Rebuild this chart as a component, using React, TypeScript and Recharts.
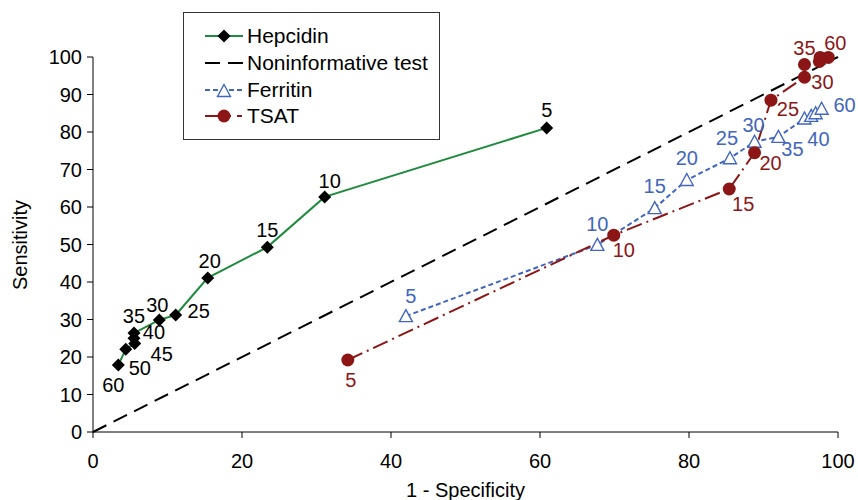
import React from "react";
import { ComposedChart, Line, XAxis, YAxis, Legend, Label } from "recharts";

// cut-off values (ng/mL or %), 1 - specificity (%), sensitivity (%)
const hepcidinCutoffs = [5, 10, 15, 20, 25, 30, 35, 40, 45, 50, 60];
const hepcidinFpr = [60.9, 31.1, 23.4, 15.4, 11.1, 8.9, 5.5, 5.5, 5.6, 4.4, 3.4];
const hepcidinSens = [81.1, 62.7, 49.3, 41.1, 31.2, 29.9, 26.4, 25.0, 23.6, 22.1, 17.9];

const ferritinCutoffs = [5, 10, 15, 20, 25, 30, 35, 40, 45, 50, 60];
const ferritinFpr = [42.0, 67.7, 75.4, 79.7, 85.5, 88.8, 92.0, 95.5, 96.4, 97.0, 97.8];
const ferritinSens = [30.9, 49.9, 59.7, 67.2, 73.0, 77.4, 78.7, 83.6, 84.3, 85.0, 86.2];
const ferritinShown = [5, 10, 15, 20, 25, 30, 35, 40, 60];

const tsatCutoffs = [5, 10, 15, 20, 25, 30, 35, 40, 50, 60];
const tsatFpr = [34.2, 69.9, 85.4, 88.8, 91.0, 95.5, 95.5, 97.5, 97.6, 98.7];
const tsatSens = [19.2, 52.5, 64.8, 74.5, 88.5, 94.6, 98.0, 98.8, 99.9, 99.9];
const tsatShown = [5, 10, 15, 20, 25, 30, 35, 60];

const diagonalX = [0, 100];
const diagonalY = [0, 100];

const xTicks = [0, 20, 40, 60, 80, 100];
const yTicks = [0, 10, 20, 30, 40, 50, 60, 70, 80, 90, 100];

// where each cut-off label sits relative to its marker (px)
const hepcidinLabelPos: Record<number, [number, number]> = {
  5: [0, -18], 10: [5, -16], 15: [0, -17], 20: [2, -17], 25: [23, -4], 30: [-2, -15],
  35: [0, -17], 40: [20, -6], 45: [27, 10], 50: [14, 19], 60: [-5, 20],
};
const ferritinLabelPos: Record<number, [number, number]> = {
  5: [5, -20], 10: [0, -21], 15: [0, -22], 20: [0, -22], 25: [-3, -20], 30: [-1, -17],
  35: [14, 12], 40: [14, 20], 60: [23, -4],
};
const tsatLabelPos: Record<number, [number, number]> = {
  5: [3, 20], 10: [10, 15], 15: [14, 15], 20: [16, 10], 25: [17, 9], 30: [18, 5],
  35: [0, -17], 60: [7, -14],
};

const FONT = '"Liberation Sans", Arial, Helvetica, sans-serif';
const GREEN = "#1E8B3E";
const BLUE = "#4266BE";
const RED = "#8C1616";

const toPoints = (cut: number[], xs: number[], ys: number[], shown?: number[]) =>
  cut.map((c, i) => ({ x: xs[i], y: ys[i], label: !shown || shown.includes(c) ? String(c) : "" }));

const hepcidinData = toPoints(hepcidinCutoffs, hepcidinFpr, hepcidinSens);
const ferritinData = toPoints(ferritinCutoffs, ferritinFpr, ferritinSens, ferritinShown);
const tsatData = toPoints(tsatCutoffs, tsatFpr, tsatSens, tsatShown);
const diagonalData = diagonalX.map((x, i) => ({ x, y: diagonalY[i] }));

type Shape = "diamond" | "triangle" | "circle";

function Marker({ shape, cx, cy }: { shape: Shape; cx: number; cy: number }) {
  if (shape === "diamond") {
    const s = 6.5;
    return (
      <path d={`M${cx},${cy - s}L${cx + s},${cy}L${cx},${cy + s}L${cx - s},${cy}Z`} fill="#000" />
    );
  }
  if (shape === "triangle") {
    return (
      <path
        d={`M${cx},${cy - 6.5}L${cx + 6.5},${cy + 5.5}L${cx - 6.5},${cy + 5.5}Z`}
        fill="#fff"
        stroke={BLUE}
        strokeWidth={1.4}
      />
    );
  }
  return <circle cx={cx} cy={cy} r={6.5} fill={RED} />;
}

const makeDot =
  (shape: Shape, labelColor: string, pos: Record<number, [number, number]>) => (props: any) => {
    const { cx, cy, index, payload } = props;
    if (cx == null || cy == null) return <g key={`e-${index}`} />;
    const off = pos[Number(payload.label)];
    return (
      <g key={`d-${shape}-${index}`}>
        <Marker shape={shape} cx={cx} cy={cy} />
        {payload.label && off ? (
          <text
            x={cx + off[0]}
            y={cy + off[1]}
            textAnchor="middle"
            dominantBaseline="central"
            fontSize={20}
            fontFamily={FONT}
            fill={labelColor}
          >
            {payload.label}
          </text>
        ) : null}
      </g>
    );
  };

function Sample({ kind }: { kind: string }) {
  return (
    <svg width={40} height={16} style={{ marginRight: 3, overflow: "visible" }}>
      {kind === "hep" && (
        <>
          <line x1={1} y1={8} x2={39} y2={8} stroke={GREEN} strokeWidth={2} />
          <Marker shape="diamond" cx={20} cy={8} />
        </>
      )}
      {kind === "non" && (
        <line x1={1} y1={8} x2={39} y2={8} stroke="#000" strokeWidth={2} strokeDasharray="15 8" />
      )}
      {kind === "fer" && (
        <>
          <line x1={1} y1={8} x2={39} y2={8} stroke={BLUE} strokeWidth={2} strokeDasharray="5 3" />
          <Marker shape="triangle" cx={20} cy={9} />
        </>
      )}
      {kind === "tsat" && (
        <>
          <line x1={1} y1={8} x2={27} y2={8} stroke={RED} strokeWidth={2} />
          <line x1={33} y1={8} x2={38} y2={8} stroke={RED} strokeWidth={2} />
          <Marker shape="circle" cx={20} cy={8} />
        </>
      )}
    </svg>
  );
}

const legendItems = [
  { kind: "hep", text: "Hepcidin" },
  { kind: "non", text: "Noninformative test" },
  { kind: "fer", text: "Ferritin" },
  { kind: "tsat", text: "TSAT" },
];

function renderLegend() {
  return (
    <div
      style={{
        width: 257,
        height: 128,
        boxSizing: "border-box",
        border: "1.5px solid #333",
        background: "#fff",
        padding: "10px 0 0 20px",
        fontFamily: FONT,
        fontSize: 21,
        color: "#000",
      }}
    >
      {legendItems.map((it) => (
        <div key={it.kind} style={{ display: "flex", alignItems: "center", height: 26.7 }}>
          <Sample kind={it.kind} />
          <span>{it.text}</span>
        </div>
      ))}
    </div>
  );
}

export default function App() {
  const tick = { fontSize: 20, fill: "#000", fontFamily: FONT };
  return (
    <div style={{ width: 858, height: 500, fontFamily: FONT, overflow: "hidden" }}>
      <style>{"body { margin: 0; } svg.recharts-surface { overflow: visible; }"}</style>
      <ComposedChart width={858} height={500} margin={{ top: 57, right: 20, left: 0, bottom: 0 }}>
        <XAxis
          type="number"
          dataKey="x"
          domain={[0, 100]}
          ticks={xTicks}
          tick={tick}
          tickSize={6}
          tickMargin={16}
          height={68}
          stroke="#000"
          allowDuplicatedCategory={false}
        >
          <Label
            content={(p: any) => {
              const vb = p.viewBox || {};
              return (
                <text
                  x={vb.x + vb.width / 2}
                  y={497}
                  textAnchor="middle"
                  fontSize={20}
                  fontFamily={FONT}
                  fill="#000"
                >
                  1 - Specificity
                </text>
              );
            }}
          />
        </XAxis>
        <YAxis
          type="number"
          dataKey="y"
          domain={[0, 100]}
          ticks={yTicks}
          tick={tick}
          tickSize={6}
          tickMargin={5}
          width={93}
          stroke="#000"
        >
          <Label
            content={() => (
              <text
                x={20}
                y={245}
                transform="rotate(-90 20 245)"
                textAnchor="middle"
                dominantBaseline="central"
                fontSize={20}
                fontFamily={FONT}
                fill="#000"
              >
                Sensitivity
              </text>
            )}
          />
        </YAxis>
        <Legend
          content={renderLegend}
          layout="vertical"
          verticalAlign="middle"
          align="center"
          wrapperStyle={{ left: 183, top: 12, width: 257, height: 128 }}
        />
        <Line
          data={diagonalData}
          dataKey="y"
          stroke="#000"
          strokeWidth={2}
          strokeDasharray="15 8"
          dot={false}
          activeDot={false}
          isAnimationActive={false}
          legendType="none"
        />
        <Line
          data={hepcidinData}
          dataKey="y"
          stroke={GREEN}
          strokeWidth={2}
          dot={makeDot("diamond", "#000", hepcidinLabelPos)}
          activeDot={false}
          isAnimationActive={false}
        />
        <Line
          data={ferritinData}
          dataKey="y"
          stroke={BLUE}
          strokeWidth={2}
          strokeDasharray="5 3"
          dot={makeDot("triangle", BLUE, ferritinLabelPos)}
          activeDot={false}
          isAnimationActive={false}
        />
        <Line
          data={tsatData}
          dataKey="y"
          stroke={RED}
          strokeWidth={2}
          strokeDasharray="16 5 2 5"
          dot={makeDot("circle", RED, tsatLabelPos)}
          activeDot={false}
          isAnimationActive={false}
        />
      </ComposedChart>
    </div>
  );
}
